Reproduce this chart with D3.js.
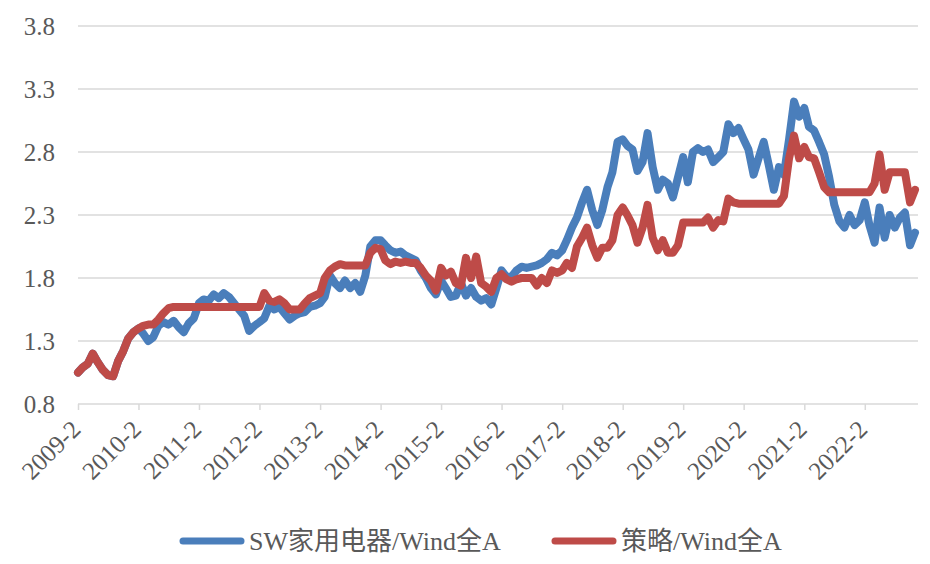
<!DOCTYPE html>
<html>
<head>
<meta charset="utf-8">
<script src="https://cdn.jsdelivr.net/npm/d3@7"></script>
<style>
  body { margin: 0; background: #fff; }
  text { font-family: "Liberation Serif", "Times New Roman", "Noto Sans CJK SC", serif; fill: #595959; }
</style>
</head>
<body>
<svg width="930" height="564"></svg>
<script>
// monthly observations, 2009-2 .. 2022-12
var firstMonth = new Date(2009, 1, 1);
var lastMonth = new Date(2022, 11, 1);

// SW家用电器/Wind全A
var swValues = [
  1.05, 1.09, 1.12, 1.2, 1.13, 1.07, 1.03, 1.02, 1.14, 1.22, 1.32, 1.37,
  1.4, 1.36, 1.3, 1.33, 1.42, 1.45, 1.43, 1.46, 1.41, 1.37, 1.44, 1.48,
  1.6, 1.63, 1.62, 1.67, 1.64, 1.68, 1.65, 1.6, 1.55, 1.5, 1.38, 1.42,
  1.45, 1.48, 1.58, 1.55, 1.57, 1.52, 1.47, 1.5, 1.52, 1.53, 1.57, 1.58,
  1.6, 1.65, 1.82, 1.76, 1.72, 1.78, 1.72, 1.76, 1.69, 1.82, 2.05, 2.1,
  2.1, 2.06, 2.02, 2.0, 2.01, 1.98, 1.96, 1.94, 1.86, 1.8, 1.72, 1.67,
  1.78, 1.72, 1.65, 1.66, 1.76, 1.66, 1.72, 1.65, 1.62, 1.64, 1.59, 1.72,
  1.86, 1.81, 1.81, 1.86, 1.89, 1.88, 1.89, 1.9, 1.92, 1.95, 2.0, 1.98,
  2.02, 2.1, 2.2, 2.28, 2.4, 2.5, 2.34, 2.22, 2.34, 2.52, 2.64, 2.88,
  2.9, 2.85, 2.82, 2.65, 2.72, 2.95, 2.68, 2.5, 2.58, 2.55, 2.44, 2.6,
  2.76, 2.56, 2.8, 2.83, 2.8, 2.82, 2.72, 2.76, 2.8, 3.02, 2.95, 2.99,
  2.9, 2.82, 2.62, 2.75, 2.88, 2.7, 2.5, 2.68, 2.62, 2.9, 3.2, 3.08,
  3.15, 3.0, 2.97, 2.88, 2.78, 2.6, 2.38, 2.25, 2.2, 2.3, 2.22, 2.26,
  2.4, 2.22, 2.08, 2.36, 2.12, 2.3, 2.2, 2.28, 2.32, 2.06, 2.16
];

// 策略/Wind全A
var strategyValues = [
  1.05, 1.09, 1.12, 1.2, 1.13, 1.07, 1.03, 1.02, 1.14, 1.22, 1.32, 1.37,
  1.4, 1.42, 1.43, 1.43, 1.47, 1.52, 1.56, 1.57, 1.57, 1.57, 1.57, 1.57,
  1.57, 1.57, 1.57, 1.57, 1.57, 1.57, 1.57, 1.57, 1.57, 1.57, 1.57, 1.57,
  1.57, 1.68, 1.62, 1.61, 1.63, 1.6, 1.55, 1.55, 1.55, 1.6, 1.64, 1.66,
  1.68, 1.8, 1.86, 1.89, 1.91, 1.9, 1.9, 1.9, 1.9, 1.9, 2.0, 2.04,
  2.03, 1.94, 1.91, 1.93, 1.92, 1.93, 1.92, 1.92, 1.88, 1.82, 1.78, 1.7,
  1.88, 1.82, 1.85, 1.76, 1.74, 1.96, 1.8, 1.97, 1.76, 1.73, 1.69, 1.8,
  1.83, 1.79, 1.77, 1.79, 1.8, 1.8, 1.8, 1.74, 1.8, 1.76, 1.86, 1.84,
  1.86, 1.92, 1.88, 2.05, 2.12, 2.2, 2.06, 1.96, 2.04, 2.04, 2.1, 2.3,
  2.36, 2.3, 2.22, 2.08, 2.2, 2.38, 2.12, 2.02, 2.1, 2.0, 2.0, 2.06,
  2.24, 2.24, 2.24, 2.24, 2.24, 2.28, 2.2, 2.26, 2.25, 2.43, 2.4, 2.39,
  2.39, 2.39, 2.39, 2.39, 2.39, 2.39, 2.39, 2.39, 2.45, 2.75, 2.93, 2.75,
  2.84, 2.76, 2.75, 2.64, 2.52, 2.48, 2.48, 2.48, 2.48, 2.48, 2.48, 2.48,
  2.48, 2.48, 2.55, 2.78, 2.5, 2.64, 2.64, 2.64, 2.64, 2.4, 2.5
];

var yTicks = [0.8, 1.3, 1.8, 2.3, 2.8, 3.3, 3.8];
var xTickLabels = ["2009-2", "2010-2", "2011-2", "2012-2", "2013-2", "2014-2", "2015-2",
  "2016-2", "2017-2", "2018-2", "2019-2", "2020-2", "2021-2", "2022-2"];
var seriesNames = ["SW家用电器/Wind全A", "策略/Wind全A"];
var seriesColors = ["#4a7ebb", "#be4b48"];

var svg = d3.select("svg"),
  plotLeft = 78,
  plotRight = 918,
  plotTop = 26,
  plotBottom = 404;

var months = d3.timeMonth.range(firstMonth, d3.timeMonth.offset(lastMonth, 1));

var x = d3.scaleTime()
  .domain([firstMonth, lastMonth])
  .range([plotLeft, 915]);

var y = d3.scaleLinear()
  .domain([0.8, 3.8])
  .range([plotBottom, plotTop]);

// gridlines
svg.append("g")
  .selectAll("line")
  .data(yTicks)
  .enter().append("line")
  .attr("x1", plotLeft)
  .attr("x2", plotRight)
  .attr("y1", function(d) { return y(d); })
  .attr("y2", function(d) { return y(d); })
  .attr("stroke", "#d9d9d9")
  .attr("stroke-width", 1.5);

// y labels
svg.append("g")
  .selectAll("text")
  .data(yTicks)
  .enter().append("text")
  .attr("x", 55)
  .attr("y", function(d) { return y(d); })
  .attr("dy", "0.35em")
  .attr("text-anchor", "end")
  .style("font-size", "25px")
  .text(function(d) { return d.toFixed(1); });

// x axis ticks (every February)
var tickDates = xTickLabels.map(function(s) {
  var p = s.split("-");
  return new Date(+p[0], +p[1] - 1, 1);
});

var xAxis = svg.append("g")
  .attr("transform", "translate(0," + plotBottom + ")")
  .call(d3.axisBottom(x).tickValues(tickDates).tickSize(6).tickFormat(""));
xAxis.select(".domain").remove();
xAxis.selectAll("line").attr("stroke", "#d9d9d9").attr("stroke-width", 1.5);

svg.append("g")
  .selectAll("text")
  .data(tickDates)
  .enter().append("text")
  .attr("transform", function(d, i) {
    return "translate(" + (x(d) + 4) + "," + (plotBottom + 27) + ") rotate(-45)";
  })
  .attr("text-anchor", "end")
  .style("font-size", "25px")
  .text(function(d, i) { return xTickLabels[i]; });

var line = d3.line()
  .x(function(d, i) { return x(months[i]); })
  .y(function(d) { return y(d); });

[swValues, strategyValues].forEach(function(values, k) {
  svg.append("path")
    .datum(values)
    .attr("fill", "none")
    .attr("stroke", seriesColors[k])
    .attr("stroke-width", 8)
    .attr("stroke-linejoin", "round")
    .attr("stroke-linecap", "round")
    .attr("d", line);
});

// legend
var legendX = [183, 555];
seriesNames.forEach(function(name, k) {
  svg.append("line")
    .attr("x1", legendX[k])
    .attr("x2", legendX[k] + 58)
    .attr("y1", 541)
    .attr("y2", 541)
    .attr("stroke", seriesColors[k])
    .attr("stroke-width", 7)
    .attr("stroke-linecap", "round");
  svg.append("text")
    .attr("x", legendX[k] + 66)
    .attr("y", 541)
    .attr("dy", "0.35em")
    .style("font-size", "26px")
    .text(name);
});
</script>
</body>
</html>
